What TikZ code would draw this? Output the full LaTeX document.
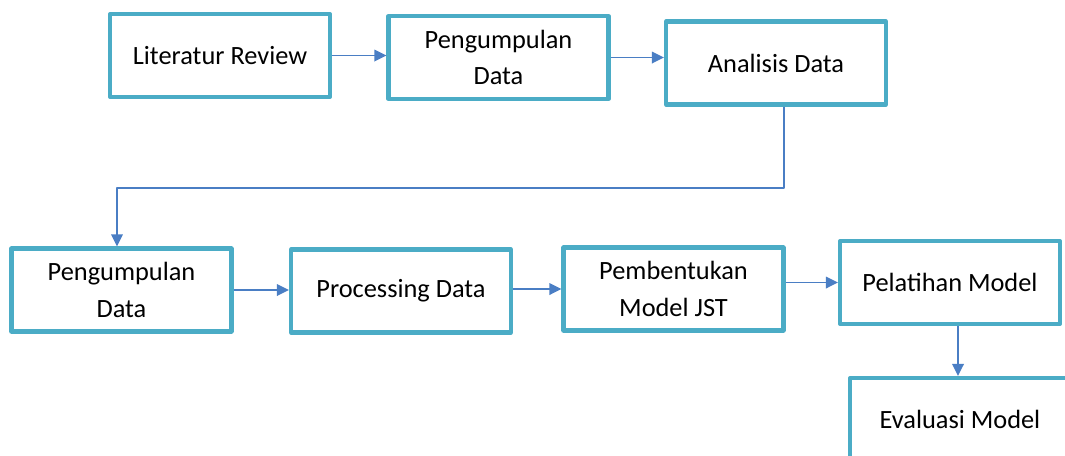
\documentclass[tikz,border=0pt]{standalone}
\usepackage{fontspec}
\setmainfont{Carlito}
\usetikzlibrary{arrows.meta}
\definecolor{boxline}{HTML}{4BACC6}
\definecolor{arrline}{HTML}{4A7EC4}
\begin{document}
\begin{tikzpicture}[font=\fontsize{7.5}{10.3}\selectfont, line join=round, >={Triangle[length=1.2mm,width=1.15mm]},
  blok/.style={draw=boxline, line width=1.15pt, minimum width=2.2cm, minimum height=0.83cm, align=center, inner sep=0pt},
  panah/.style={->, draw=arrline, line width=0.5pt}]
\useasboundingbox (0,0) rectangle (10.65,-4.55);
\node[blok] (lit) at (2.20,-0.555) {Literatur Review};
\node[blok] (kumpul) at (4.985,-0.575) {Pengumpulan\\Data};
\node[blok] (analisis) at (7.76,-0.63) {Analisis Data};
\node[blok] (kumpulb) at (1.215,-2.90) {Pengumpulan\\Data};
\node[blok] (proses) at (4.01,-2.91) {Processing Data};
\node[blok] (jst) at (6.735,-2.89) {Pembentukan\\Model JST};
\node[blok] (latih) at (9.50,-2.825) {Pelatihan Model};
\node[blok] (eval) at (9.60,-4.195) {Evaluasi Model};
\coordinate (belok) at (7.84,-1.88);
\draw[panah] (lit.east) -- (lit.east -| kumpul.west);
\draw[panah] (kumpul.east) -- (kumpul.east -| analisis.west);
\draw[panah] (analisis.south -| belok) -- (belok) -- (belok -| 1.17,0) -- (1.17,0 |- kumpulb.north);
\draw[panah] (kumpulb.east) -- (kumpulb.east -| proses.west);
\draw[panah] (jst.west -| proses.east) -- (jst.west);
\draw[panah] (latih.west -| jst.east) -- (latih.west);
\draw[panah] (latih.south -| 9.58,0) -- (eval.north -| 9.58,0);
\end{tikzpicture}
\end{document}
